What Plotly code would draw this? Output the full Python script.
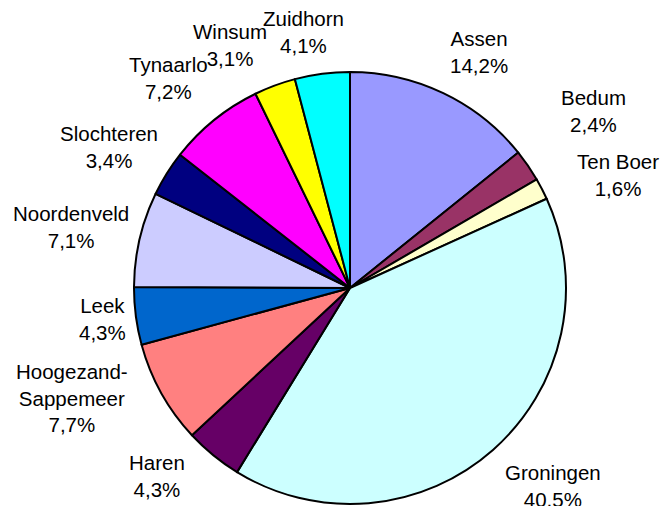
import math
import plotly.graph_objs as go

# gemeenten, met aandeel in %
gemeenten = ["Assen", "Bedum", "Ten Boer", "Groningen", "Haren",
             "Hoogezand-Sappemeer", "Leek", "Noordenveld", "Slochteren",
             "Tynaarlo", "Winsum", "Zuidhorn"]
aandeel = [14.2, 2.4, 1.6, 40.5, 4.3, 7.7, 4.3, 7.1, 3.4, 7.2, 3.1, 4.1]
kleuren = ["#9999FF", "#993366", "#FFFFCC", "#CCFFFF", "#660066", "#FF8080",
           "#0066CC", "#CCCCFF", "#000080", "#FF00FF", "#FFFF00", "#00FFFF"]

W, H = 664, 506
CX, CY, R = 350, 288, 216

# label nudges in px (excel moved some labels around)
label_nudge = {
    "Assen": (16, -1), "Bedum": (28, -29), "Ten Boer": (36, 7),
    "Groningen": (30, 2), "Haren": (-28, -14), "Hoogezand-Sappemeer": (-50, -17),
    "Leek": (11, -3), "Noordenveld": (-25, -2), "Slochteren": (-20, -3),
    "Tynaarlo": (-18, -7), "Winsum": (-29, 2), "Zuidhorn": (-13, 3),
}

fig = go.Figure(go.Pie(
    labels=gemeenten, values=aandeel, sort=False, direction="clockwise",
    rotation=0, textinfo="none", showlegend=False,
    marker=dict(colors=kleuren, line=dict(color="black", width=2)),
    domain=dict(x=[(CX - R) / W, (CX + R) / W], y=[(H - CY - R) / H, (H - CY + R) / H]),
))

# labels buiten de taart
totaal = sum(aandeel)
cum = 0
annotations = []
for naam, v in zip(gemeenten, aandeel):
    mid = (cum + v / 2) / totaal * 2 * math.pi
    cum += v
    dx, dy = label_nudge[naam]
    px = CX + (R + 45) * math.sin(mid) + dx
    py = CY - (R + 45) * math.cos(mid) + dy
    tekst = naam.replace("-", "-<br>") + "<br>" + ("%.1f%%" % v).replace(".", ",")
    annotations.append(dict(
        x=px / W, y=1 - py / H, xref="paper", yref="paper", text=tekst,
        showarrow=False, xanchor="center", yanchor="middle", align="center",
        font=dict(family="Liberation Sans, Arial", size=20.5, color="black"),
    ))

fig.update_layout(
    width=W, height=H, margin=dict(l=0, r=0, t=0, b=0),
    paper_bgcolor="white", plot_bgcolor="white",
    annotations=annotations,
)

fig.write_html("out.html", config={"displayModeBar": False},
               post_script="document.body.style.margin='0';")
